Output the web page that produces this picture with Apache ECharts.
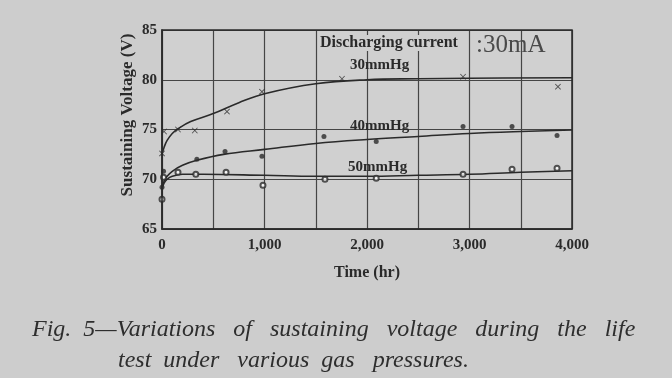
<!DOCTYPE html>
<html>
<head>
<meta charset="utf-8">
<script src="https://cdn.jsdelivr.net/npm/echarts@6/dist/echarts.min.js"></script>
<style>
  html, body { margin: 0; padding: 0; background: #cdcdcd; }
  #chart { width: 672px; height: 378px; }
</style>
</head>
<body>
<div id="chart"></div>
<script>
// measured points (time in hr, voltage in V)
const pts30 = [[0, 72.6], [20, 74.8], [156, 75.0], [320, 74.9], [634, 76.8], [975, 78.8], [1756, 80.1], [2937, 80.3], [3863, 79.3]]
const pts40 = [[0, 69.2], [15, 70.8], [340, 72.0], [615, 72.8], [975, 72.3], [1580, 74.3], [2090, 73.8], [2937, 75.3], [3415, 75.3], [3854, 74.4]]
const pts50 = [[0, 68.0], [15, 70.2], [156, 70.7], [330, 70.5], [625, 70.7], [985, 69.4], [1590, 70.0], [2090, 70.1], [2937, 70.5], [3415, 71.0], [3854, 71.1]]

// hand-fitted curves
const fit30 = [[0, 72.5], [20, 73.2], [50, 73.9], [100, 74.6], [160, 75.1], [280, 75.8], [500, 76.6], [750, 77.7], [1000, 78.6], [1500, 79.6], [2000, 80.0], [2500, 80.1], [3000, 80.15], [4000, 80.2]]
const fit40 = [[0, 69.2], [20, 69.8], [50, 70.3], [100, 70.8], [200, 71.4], [340, 71.9], [600, 72.5], [1000, 73.0], [1500, 73.6], [2000, 74.0], [2500, 74.3], [3000, 74.6], [3500, 74.8], [4000, 74.95]]
const fit50 = [[0, 69.0], [20, 69.6], [50, 70.0], [100, 70.3], [200, 70.5], [400, 70.5], [1000, 70.4], [1500, 70.3], [2000, 70.3], [2500, 70.4], [3000, 70.5], [3500, 70.7], [4000, 70.85]]

const ink = '#2a2a2a'
const bg = '#cdcdcd'
const serif = '"Liberation Serif", "DejaVu Serif", serif'
const crossPath = 'path://M0,1L1,0L5,4L9,0L10,1L6,5L10,9L9,10L5,6L1,10L0,9L4,5Z'

const chart = echarts.init(document.getElementById('chart'))

function curve(data) {
  return {
    type: 'line',
    data: data,
    smooth: 0.4,
    showSymbol: false,
    silent: true,
    lineStyle: { color: ink, width: 1.6 },
    z: 3
  }
}

function marks(data, symbol, size) {
  return {
    type: 'scatter',
    data: data,
    symbol: symbol,
    symbolSize: size,
    itemStyle: { color: ink, borderColor: ink, borderWidth: symbol === 'emptyCircle' ? 1 : 0 },
    z: 4
  }
}

const option = {
  backgroundColor: bg,
  animation: false,
  grid: { left: 162, top: 30, width: 410, height: 199, show: true, backgroundColor: '#d0d0d0', borderWidth: 0 },
  xAxis: {
    type: 'value',
    min: 0,
    max: 4000,
    interval: 500,
    name: 'Time (hr)',
    nameLocation: 'middle',
    nameGap: 36,
    nameTextStyle: { color: ink, fontFamily: serif, fontWeight: 'bold', fontSize: 16 },
    axisLine: { lineStyle: { color: ink, width: 1.5 } },
    axisTick: { show: false },
    axisLabel: {
      color: ink,
      fontFamily: serif,
      fontWeight: 'bold',
      fontSize: 15,
      margin: 9,
      formatter: v => v % 1000 === 0 ? v.toLocaleString('en-US') : ''
    },
    splitLine: { lineStyle: { color: '#454545', width: 1.2 } }
  },
  yAxis: {
    type: 'value',
    min: 65,
    max: 85,
    interval: 5,
    axisLine: { show: true, lineStyle: { color: ink, width: 1.5 } },
    axisTick: { show: false },
    axisLabel: { color: ink, fontFamily: serif, fontWeight: 'bold', fontSize: 15, margin: 5 },
    splitLine: { lineStyle: { color: '#454545', width: 1.2 } }
  },
  series: [
    curve(fit30),
    curve(fit40),
    curve(fit50),
    marks(pts30, crossPath, 6),
    marks(pts40, 'circle', 5),
    marks(pts50, 'emptyCircle', 5)
  ],
  graphic: [
    { type: 'rect', shape: { x: 162, y: 30, width: 410, height: 199 }, style: { fill: 'none', stroke: ink, lineWidth: 1.5 }, z: 10, silent: true },
    {
      type: 'text', x: 128, y: 115, rotation: Math.PI / 2, z: 10,
      style: { text: 'Sustaining Voltage (V)', font: 'bold 17px ' + serif, fill: ink, align: 'center', verticalAlign: 'middle' }
    },
    { type: 'text', left: 318, top: 35, z: 10, style: { text: 'Discharging current', font: 'bold 16px ' + serif, fill: ink, backgroundColor: '#d0d0d0', padding: [0, 2] } },
    { type: 'text', left: 476, top: 33, z: 10, style: { text: ':30mA', font: '25px ' + serif, fill: '#4a4a4a' } },
    { type: 'text', left: 350, top: 58, z: 10, style: { text: '30mmHg', font: 'bold 15px ' + serif, fill: ink } },
    { type: 'text', left: 350, top: 119, z: 10, style: { text: '40mmHg', font: 'bold 15px ' + serif, fill: ink } },
    { type: 'text', left: 348, top: 160, z: 10, style: { text: '50mmHg', font: 'bold 15px ' + serif, fill: ink } },
    { type: 'text', left: 32, top: 318, style: { text: 'Fig.  5\u2014Variations   of   sustaining   voltage   during   the   life', font: 'italic 24px ' + serif, fill: '#2e2e2e' } },
    { type: 'text', left: 118, top: 349, style: { text: 'test  under   various  gas   pressures.', font: 'italic 24px ' + serif, fill: '#2e2e2e' } }
  ]
}

chart.setOption(option)
</script>
</body>
</html>
